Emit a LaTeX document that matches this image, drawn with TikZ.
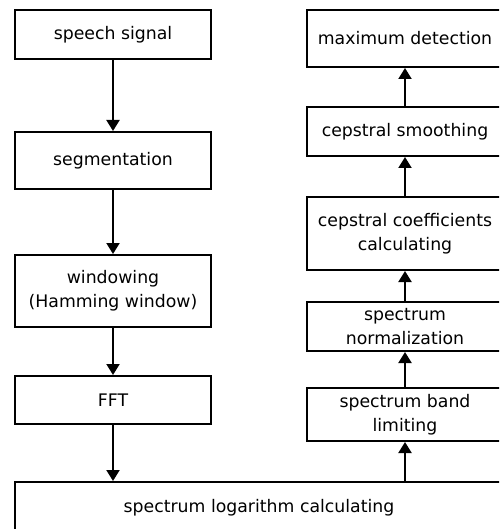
\documentclass[tikz,border=0pt]{standalone}
\usepackage{fontspec}
\setmainfont{DejaVu Sans}
\usetikzlibrary{arrows.meta}
\begin{document}
\begin{tikzpicture}[x=1pt,y=-1pt,
  procbox/.style={draw, line width=2pt, inner sep=0pt, align=center,
    minimum width=196pt, font=\fontsize{17.3}{24}\selectfont},
  flow/.style={line width=2pt, -{Triangle[length=11pt,width=13pt]}}]
\useasboundingbox (0,0) rectangle (499,529);
\clip (0,0) rectangle (499,529);
% left column (top to bottom)
\node[procbox, minimum height=49pt] (speech) at (113,34.5) {speech signal};
\node[procbox, minimum height=57pt] (seg) at (113,160.5) {segmentation};
\node[procbox, minimum height=72pt] (win) at (113,291) {windowing\\(Hamming window)};
\node[procbox, minimum height=48pt] (fft) at (113,400) {FFT};
% wide box across both columns
\node[procbox, minimum width=488pt, minimum height=52pt] (logc) at (259,508) {spectrum logarithm calculating};
% right column (bottom to top)
\node[procbox, minimum height=53pt] (band) at (405,414.5) {spectrum band\\limiting};
\node[procbox, minimum height=49pt] (norm) at (405,326.5) {spectrum\\normalization};
\node[procbox, minimum height=73pt] (coef) at (405,233.5) {cepstral coefficients\\calculating};
\node[procbox, minimum height=49pt] (smooth) at (405,131.5) {cepstral smoothing};
\node[procbox, minimum height=57pt] (maxd) at (405,38.5) {maximum detection};
% connectors
\draw[flow] (speech) -- (seg);
\draw[flow] (seg) -- (win);
\draw[flow] (win) -- (fft);
\draw[flow] (fft.south) -- (fft.south |- logc.north);
\draw[flow] (band.south |- logc.north) -- (band.south);
\draw[flow] (band) -- (norm);
\draw[flow] (norm) -- (coef);
\draw[flow] (coef) -- (smooth);
\draw[flow] (smooth) -- (maxd);
\end{tikzpicture}
\end{document}
